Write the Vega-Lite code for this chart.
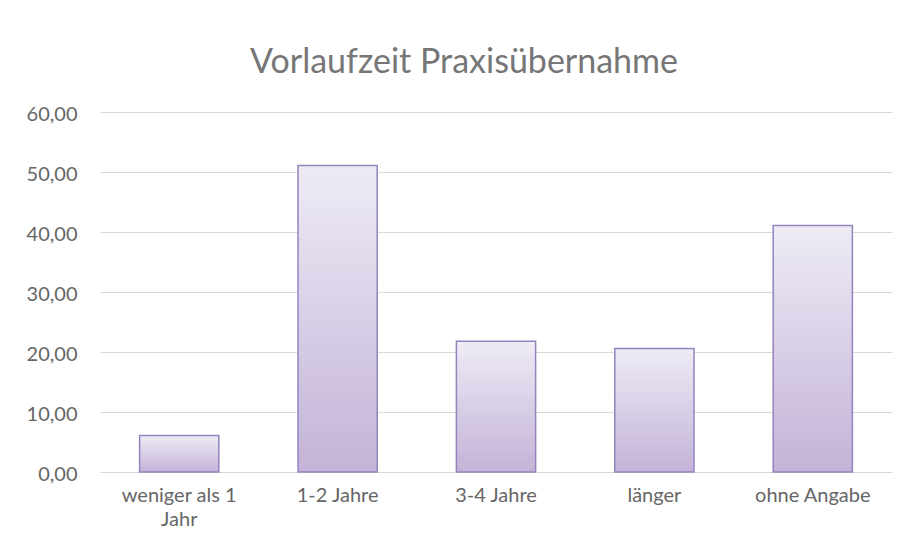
{
  "$schema": "https://vega.github.io/schema/vega-lite/v6.json",
  "autosize": "none",
  "width": 792,
  "height": 360,
  "padding": {"left": 100, "top": 112, "right": 20, "bottom": 82},
  "background": "white",
  "config": {"view": {"stroke": null}, "font": "Lato"},
  "title": {
    "text": "Vorlaufzeit Praxisübernahme",
    "anchor": "middle",
    "frame": "group",
    "dx": -32,
    "baseline": "alphabetic",
    "offset": -3,
    "fontSize": 34,
    "fontWeight": "normal",
    "font": "Lato",
    "color": "#767676"
  },
  "data": {
    "values": [
      {"kategorie": "weniger als 1 Jahr", "wert": 6.1},
      {"kategorie": "1-2 Jahre", "wert": 51.1},
      {"kategorie": "3-4 Jahre", "wert": 21.8},
      {"kategorie": "länger", "wert": 20.6},
      {"kategorie": "ohne Angabe", "wert": 41.1}
    ]
  },
  "mark": {
    "type": "bar",
    "color": {
      "gradient": "linear",
      "x1": 0, "y1": 0, "x2": 0, "y2": 1,
      "stops": [
        {"offset": 0, "color": "#EEEBF5"},
        {"offset": 1, "color": "#C3B3D8"}
      ]
    },
    "stroke": "#9484BE",
    "strokeWidth": 1.5
  },
  "encoding": {
    "x": {
      "field": "kategorie",
      "type": "nominal",
      "sort": null,
      "scale": {"paddingInner": 0.5, "paddingOuter": 0.25},
      "axis": {
        "title": null,
        "labelAngle": 0,
        "ticks": false,
        "domainColor": "#D9D9D9",
        "domainWidth": 1,
        "labelPadding": 13,
        "labelFontSize": 20,
        "labelColor": "#666666",
        "labelFont": "Lato",
        "labelBaseline": "top",
        "labelLineHeight": 24,
        "labelExpr": "datum.label == 'weniger als 1 Jahr' ? ['weniger als 1', 'Jahr'] : datum.label"
      }
    },
    "y": {
      "field": "wert",
      "type": "quantitative",
      "scale": {"domain": [0, 60]},
      "axis": {
        "title": null,
        "values": [0, 10, 20, 30, 40, 50, 60],
        "domain": false,
        "ticks": false,
        "gridColor": "#D9D9D9",
        "gridWidth": 1,
        "labelPadding": 23,
        "labelOffset": 2,
        "labelFontSize": 20,
        "labelColor": "#666666",
        "labelFont": "Lato",
        "labelExpr": "replace(format(datum.value, '.2f'), '.', ',')"
      }
    }
  }
}
